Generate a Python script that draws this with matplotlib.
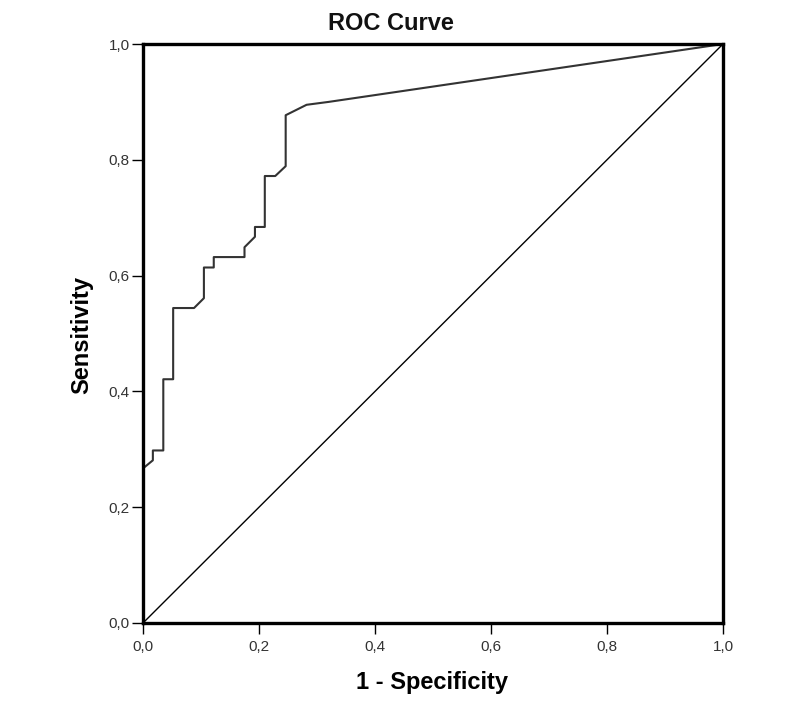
import matplotlib
matplotlib.use("Agg")
import matplotlib.pyplot as plt
from matplotlib.ticker import FuncFormatter

# ---------------------------------------------------------------------------
# Data
# ---------------------------------------------------------------------------
fpr = [0.0, 0.017, 0.017, 0.035, 0.035, 0.052, 0.052, 0.088, 0.105, 0.105,
       0.122, 0.122, 0.175, 0.175, 0.193, 0.193, 0.210, 0.210, 0.228, 0.246,
       0.246, 0.282, 0.320, 1.0]
tpr = [0.267, 0.281, 0.298, 0.298, 0.421, 0.421, 0.544, 0.544, 0.561, 0.614,
       0.614, 0.632, 0.632, 0.649, 0.667, 0.684, 0.684, 0.772, 0.772, 0.789,
       0.877, 0.895, 0.900, 1.0]
ref_line = [0.0, 1.0]
ticks = [0.0, 0.2, 0.4, 0.6, 0.8, 1.0]

plt.rcParams["font.family"] = ["Liberation Sans", "DejaVu Sans"]

fig = plt.figure(figsize=(8, 7.1), dpi=100)
ax = fig.add_axes([143 / 800, 1 - 623 / 710, 580 / 800, 579 / 710])

ax.plot(ref_line, ref_line, color="black", linewidth=1.0)
ax.plot(fpr, tpr, color="#333333", linewidth=1.5)

ax.set_xlim(0, 1)
ax.set_ylim(0, 1)
ax.set_xticks(ticks)
ax.set_yticks(ticks)
comma = FuncFormatter(lambda v, _: f"{v:.1f}".replace(".", ","))
ax.xaxis.set_major_formatter(comma)
ax.yaxis.set_major_formatter(comma)
ax.tick_params(direction="out", length=8, width=1, labelsize=11,
               labelcolor="#333333")
ax.tick_params(axis="x", pad=4)
ax.tick_params(axis="y", pad=1.5)

for sp in ax.spines.values():
    sp.set_linewidth(2.4)

fig.text(391 / 800, 1 - 24 / 710, "ROC Curve", ha="center", va="center",
         fontsize=17, fontweight="bold", color="#111111")
fig.text(432 / 800, 1 - 683 / 710, "1 - Specificity", ha="center", va="center",
         fontsize=17, fontweight="bold")
fig.text(82 / 800, 1 - 335 / 710, "Sensitivity", ha="center", va="center",
         rotation=90, fontsize=17, fontweight="bold")

fig.savefig("out.png", dpi=100, facecolor="white")
